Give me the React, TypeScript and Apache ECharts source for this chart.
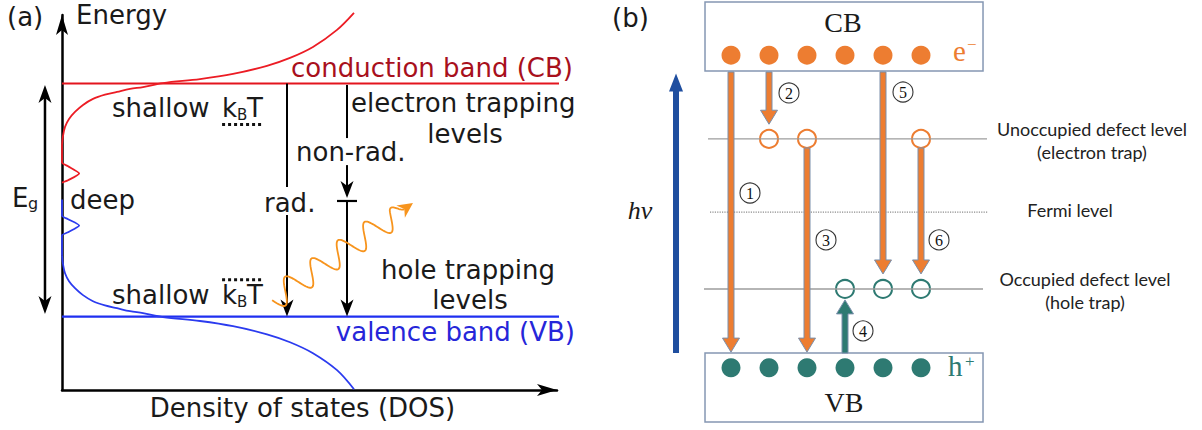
import React, { useEffect, useRef } from "react";
import * as echarts from "echarts";

// ---------------- Panel (a): density of states sketch ----------------
// x = density of states (a.u.), y = energy (VB edge = 0, CB edge = 1)
const cbDosCurve: number[][] = [
  [0, 0.736], [0.02, 0.775], [0.06, 0.814], [0.139, 0.848], [0.257, 0.878], [0.416, 0.908],
  [0.614, 0.934], [0.851, 0.952], [1.089, 0.964], [1.347, 0.977], [1.604, 0.985], [2.0, 1.002],
  [2.733, 1.019], [3.386, 1.041], [4.059, 1.076], [4.515, 1.11], [4.97, 1.157], [5.446, 1.23],
  [5.782, 1.303],
];
const cbDeepBump: number[][] = [
  [0, 0.736], [0, 0.661], [0.12, 0.645], [0.34, 0.614], [0.12, 0.585], [0, 0.575],
];
const vbDeepBump: number[][] = [
  [0, 0.502], [0, 0.433], [0.12, 0.418], [0.34, 0.391], [0.12, 0.362], [0, 0.348], [0, 0.264],
];
const vbDosCurve: number[][] = [
  [0, 0.264], [0.02, 0.225], [0.06, 0.186], [0.139, 0.152], [0.257, 0.122], [0.416, 0.092],
  [0.614, 0.066], [0.851, 0.048], [1.089, 0.036], [1.347, 0.023], [1.604, 0.015], [2.0, -0.002],
  [2.733, -0.019], [3.386, -0.041], [4.059, -0.076], [4.515, -0.11], [4.97, -0.157], [5.446, -0.23],
  [5.782, -0.312],
];
const cbEdge: number[][] = [[0, 1], [9.86, 1]];
const vbEdge: number[][] = [[0, 0], [9.86, 0]];

// transitions of panel (a), in data units (dos, energy)
const radDos = 4.455;
const radLabelGap = [0.556, 0.436];
const nonRadDos = 5.644;
const nonRadSegments: number[][] = [[0.994, 0.766], [0.65, 0.509], [0.496, 0]];
const nonRadArrowed = [false, true, true];
const nonRadTrapEnergy = 0.496;
const nonRadTrapHalfWidth = 0.198;
const gapArrowDos = -0.337;
const gapArrowEnergies = [0.011, 0.994];
const photonStart = [4.16, 0.07];
const photonTip = [6.95, 0.487];
const dottedKT: number[][] = [[3.17, 0.824, 4.0], [3.17, 0.158, 4.0]]; // [dosFrom, energy, dosTo]

// ---------------- Panel (b): defect levels ----------------
const stateSlots = [1, 2, 3, 4, 5, 6];
const electronTrapSlots = [2, 3, 6];
const holeTrapSlots = [4, 5, 6];
const cbEnergy = 1;
const vbEnergy = 0;
const electronTrapEnergy = 0.732;
const fermiEnergy = 0.498;
const holeTrapEnergy = 0.252;
const electronTrapSpan = [0.395, 7.737];
const fermiSpan = [0.447, 7.763];
const holeTrapSpan = [0.289, 7.632];
const cbBox = [0.316, 0.949, 7.632, 1.17];
const vbBox = [0.316, -0.174, 7.632, 0.047];
const transitionLabels = ["1", "2", "3", "4", "5", "6"];
const transitionSlots = [1, 2, 3, 4, 5, 6];
const transitionFrom = [0.946, 0.946, 0.703, 0.047, 0.946, 0.703];
const transitionTo = [0.05, 0.779, 0.05, 0.217, 0.3, 0.3];
const transitionLabelAt: number[][] = [
  [1.5, 0.559], [2.526, 0.879], [3.5, 0.409], [4.474, 0.118], [5.526, 0.882], [6.474, 0.409],
];
const hvSlot = -0.447;
const hvEnergies = [0.047, 0.941];

const SANS = "DejaVu Sans";
const SERIF = "Liberation Serif";
const ORANGE = "#ed7d31";
const TEAL = "#2e7a72";
const A_SIZE = 26;

type P = number[];

function unit(a: P, b: P) {
  const dx = b[0] - a[0], dy = b[1] - a[1];
  const L = Math.hypot(dx, dy) || 1;
  return [dx / L, dy / L];
}

function head(from: P, tip: P, len: number, halfW: number, notch: number, fill: string) {
  const [ux, uy] = unit(from, tip);
  const nx = -uy, ny = ux;
  const bx = tip[0] - ux * len, by = tip[1] - uy * len;
  return {
    type: "polygon", z: 50, silent: true,
    shape: {
      points: [
        [tip[0], tip[1]],
        [bx + nx * halfW, by + ny * halfW],
        [tip[0] - ux * len * notch, tip[1] - uy * len * notch],
        [bx - nx * halfW, by - ny * halfW],
      ],
    },
    style: { fill },
  };
}

function seg(a: P, b: P, color: string, w: number, dash?: number[]) {
  return {
    type: "line", z: 50, silent: true,
    shape: { x1: a[0], y1: a[1], x2: b[0], y2: b[1] },
    style: { stroke: color, lineWidth: w, lineDash: dash },
  };
}

function blackArrow(from: P, tip: P, w = 2) {
  const [ux, uy] = unit(from, tip);
  const len = 17;
  const end = [tip[0] - ux * len * 0.7, tip[1] - uy * len * 0.7];
  return [seg(from, end, "#000", w), head(from, tip, len, 6.5, 0.72, "#000")];
}

function blockArrow(from: P, tip: P, shaftHalf: number, headHalf: number, headLen: number, fill: string, stroke?: string) {
  const [ux, uy] = unit(from, tip);
  const nx = -uy, ny = ux;
  const nk = [tip[0] - ux * headLen, tip[1] - uy * headLen];
  const pts = [
    [from[0] + nx * shaftHalf, from[1] + ny * shaftHalf],
    [nk[0] + nx * shaftHalf, nk[1] + ny * shaftHalf],
    [nk[0] + nx * headHalf, nk[1] + ny * headHalf],
    [tip[0], tip[1]],
    [nk[0] - nx * headHalf, nk[1] - ny * headHalf],
    [nk[0] - nx * shaftHalf, nk[1] - ny * shaftHalf],
    [from[0] - nx * shaftHalf, from[1] - ny * shaftHalf],
  ];
  return {
    type: "polygon", z: 50, silent: true,
    shape: { points: pts },
    style: { fill, stroke: stroke || null, lineWidth: stroke ? 1 : 0 },
  };
}

function txt(text: string, x: number, y: number, o: any = {}) {
  return {
    type: "text", z: 60, silent: true, x, y,
    style: {
      text,
      fontSize: o.size || A_SIZE,
      fontFamily: o.family || SANS,
      fontStyle: o.italic ? "italic" : "normal",
      fill: o.color || "#1a1a1a",
      align: o.align || "left",
      verticalAlign: "middle",
    },
  };
}

export default function App() {
  const ref = useRef<HTMLDivElement>(null);

  useEffect(() => {
    if (!ref.current) return;
    const chart = echarts.init(ref.current, null, { renderer: "svg" });

    const bLine = (span: number[], e: number, dotted = false) => ({
      type: "line", xAxisIndex: 1, yAxisIndex: 1, silent: true, symbol: "none",
      data: [[span[0], e], [span[1], e]],
      lineStyle: { color: dotted ? "#8c8c8c" : "#9d9d9d", width: dotted ? 1.2 : 1.4, type: dotted ? "dotted" : "solid" },
    });
    const aLine = (data: number[][], color: string, w: number, smooth: number | boolean) => ({
      type: "line", xAxisIndex: 0, yAxisIndex: 0, silent: true, symbol: "none", clip: false,
      smooth, data, lineStyle: { color, width: w },
    });

    chart.setOption({
      animation: false,
      backgroundColor: "#ffffff",
      grid: [
        { left: 62, top: 15, width: 495, height: 375 },
        { left: 693, top: 2, width: 304, height: 422 },
      ],
      xAxis: [
        {
          type: "value", gridIndex: 0, min: 0, max: 9.802,
          name: "Density of states (DOS)", nameLocation: "middle", nameGap: 5,
          nameTextStyle: { fontSize: A_SIZE, fontFamily: SANS, color: "#1a1a1a", verticalAlign: "top", padding: [0, 14, 0, 0] },
          axisLine: { show: true, onZero: false, symbol: ["none", "arrow"], symbolSize: [9, 20], lineStyle: { color: "#000", width: 2.5 } },
          axisTick: { show: false }, axisLabel: { show: false }, splitLine: { show: false },
        },
        { type: "value", gridIndex: 1, min: 0, max: 8, show: false },
      ],
      yAxis: [
        {
          type: "value", gridIndex: 0, min: -0.315, max: 1.294,
          name: "Energy", nameLocation: "end", nameGap: 0,
          nameTextStyle: { fontSize: A_SIZE, fontFamily: SANS, color: "#1a1a1a", align: "left", verticalAlign: "middle", padding: [0, 0, 0, 14] },
          axisLine: { show: true, onZero: false, symbol: ["none", "arrow"], symbolSize: [9, 20], lineStyle: { color: "#000", width: 2.5 } },
          axisTick: { show: false }, axisLabel: { show: false }, splitLine: { show: false },
        },
        { type: "value", gridIndex: 1, min: -0.18, max: 1.17, show: false },
      ],
      series: [
        aLine(cbEdge, "#e3151e", 2.2, false),
        aLine(vbEdge, "#1f2ff0", 2.2, false),
        aLine(cbDosCurve, "#ec1c24", 1.8, 0.35),
        aLine(cbDeepBump, "#ec1c24", 1.8, 0.2),
        aLine(vbDeepBump, "#2b3bef", 1.8, 0.2),
        aLine(vbDosCurve, "#2b3bef", 1.8, 0.35),
        bLine(electronTrapSpan, electronTrapEnergy),
        bLine(fermiSpan, fermiEnergy, true),
        bLine(holeTrapSpan, holeTrapEnergy),
        {
          type: "scatter", xAxisIndex: 1, yAxisIndex: 1, silent: true, symbolSize: 19,
          data: stateSlots.map((s) => [s, cbEnergy]), itemStyle: { color: ORANGE, opacity: 1 },
        },
        {
          type: "scatter", xAxisIndex: 1, yAxisIndex: 1, silent: true, symbolSize: 19,
          data: stateSlots.map((s) => [s, vbEnergy]), itemStyle: { color: TEAL, opacity: 1 },
        },
        {
          type: "scatter", xAxisIndex: 1, yAxisIndex: 1, silent: true, symbolSize: 18,
          data: electronTrapSlots.map((s) => [s, electronTrapEnergy]),
          itemStyle: { color: "#ffffff", borderColor: ORANGE, borderWidth: 2, opacity: 1 },
        },
        {
          type: "scatter", xAxisIndex: 1, yAxisIndex: 1, silent: true, symbolSize: 18,
          data: holeTrapSlots.map((s) => [s, holeTrapEnergy]),
          itemStyle: { color: "#ffffff", borderColor: TEAL, borderWidth: 2, opacity: 1 },
        },
      ],
    });

    const pA = (d: number, e: number) => chart.convertToPixel({ gridIndex: 0 } as any, [d, e]) as number[];
    const pB = (s: number, e: number) => chart.convertToPixel({ gridIndex: 1 } as any, [s, e]) as number[];

    const els: any[] = [];

    // ---- panel (a) annotations ----
    {
      const lo = pA(gapArrowDos, gapArrowEnergies[0]);
      const hi = pA(gapArrowDos, gapArrowEnergies[1]);
      const len = 18;
      els.push(seg([lo[0], lo[1] - len * 0.7], [hi[0], hi[1] + len * 0.7], "#000", 2.5));
      els.push(head(hi, lo, len, 6.5, 0.72, "#000"));
      els.push(head(lo, hi, len, 6.5, 0.72, "#000"));
    }
    els.push(seg(pA(radDos, 1), pA(radDos, radLabelGap[0]), "#000", 2));
    els.push(...blackArrow(pA(radDos, radLabelGap[1]), pA(radDos, 0)));
    nonRadSegments.forEach((s, i) => {
      const a = pA(nonRadDos, s[0]);
      const b = pA(nonRadDos, s[1]);
      if (nonRadArrowed[i]) els.push(...blackArrow(a, b));
      else els.push(seg(a, b, "#000", 2));
    });
    els.push(seg(pA(nonRadDos - nonRadTrapHalfWidth, nonRadTrapEnergy), pA(nonRadDos + nonRadTrapHalfWidth, nonRadTrapEnergy), "#000", 2.2));
    dottedKT.forEach((d) => els.push(seg(pA(d[0], d[1]), pA(d[2], d[1]), "#111", 3, [3, 3])));
    // photon (wavy arrow glyph)
    {
      const p0 = pA(photonStart[0], photonStart[1]);
      const tip = pA(photonTip[0], photonTip[1]);
      const [ux, uy] = unit(p0, tip);
      const nx = -uy, ny = ux;
      const hl = 15;
      const wEnd = [tip[0] - ux * hl * 0.7, tip[1] - uy * hl * 0.7];
      const pts: number[][] = [];
      const cycles = 5, amp = 12, steps = 260;
      for (let i = 0; i <= steps; i++) {
        const t = i / steps;
        const bx = p0[0] + (wEnd[0] - p0[0]) * t;
        const by = p0[1] + (wEnd[1] - p0[1]) * t;
        const taper = t > 0.92 ? (1 - t) / 0.08 : 1;
        const o = amp * Math.sin(2 * Math.PI * cycles * t) * taper;
        pts.push([bx + nx * o, by + ny * o]);
      }
      els.push({ type: "polyline", z: 55, silent: true, shape: { points: pts }, style: { stroke: "#f7941d", lineWidth: 1.8, fill: null } });
      els.push({ ...head(p0, tip, hl, 7.5, 0.7, "#f7941d"), z: 56 });
    }

    // panel (a) texts
    els.push(txt("(a)", 7, 17));
    els.push(txt("conduction band (CB)", 573, 68, { align: "right", color: "#a8101c" }));
    els.push(txt("shallow", 112, 108));
    els.push(txt("k", 222, 108));
    els.push(txt("B", 237, 115, { size: 15 }));
    els.push(txt("T", 247, 108));
    els.push(txt("electron trapping", 351, 103));
    els.push(txt("levels", 465, 134, { align: "center" }));
    els.push(txt("non-rad.", 296, 152));
    els.push(txt("rad.", 264, 203));
    els.push(txt("deep", 70, 200));
    els.push(txt("E", 12, 198));
    els.push(txt("g", 28, 203, { size: 16 }));
    els.push(txt("hole trapping", 381, 270));
    els.push(txt("levels", 470, 300, { align: "center" }));
    els.push(txt("shallow", 112, 295));
    els.push(txt("k", 222, 295));
    els.push(txt("B", 237, 302, { size: 15 }));
    els.push(txt("T", 247, 295));
    els.push(txt("valence band (VB)", 575, 332, { align: "right", color: "#2626d9" }));

    // ---- panel (b) annotations ----
    const box = (b: number[]) => {
      const a = pB(b[0], b[3]);
      const c = pB(b[2], b[1]);
      return {
        type: "rect", z: 40, silent: true,
        shape: { x: a[0], y: a[1], width: c[0] - a[0], height: c[1] - a[1] },
        style: { fill: "rgba(0,0,0,0)", stroke: "#8597b3", lineWidth: 1.5 },
      };
    };
    els.push(box(cbBox));
    els.push(box(vbBox));

    transitionSlots.forEach((s, i) => {
      const from = pB(s, transitionFrom[i]);
      const tip = pB(s, transitionTo[i]);
      const color = transitionLabels[i] === "4" ? TEAL : ORANGE;
      els.push(blockArrow(from, tip, 3, 8.5, 14, color, "#7a8fab"));
      const lp = pB(transitionLabelAt[i][0], transitionLabelAt[i][1]);
      els.push({ type: "circle", z: 58, silent: true, shape: { cx: lp[0], cy: lp[1], r: 10 }, style: { fill: "#fff", stroke: "#333", lineWidth: 1.1 } });
      els.push(txt(transitionLabels[i], lp[0], lp[1] + 0.5, { size: 16, family: SERIF, align: "center", color: "#111" }));
    });

    els.push(blockArrow(pB(hvSlot, hvEnergies[0]), pB(hvSlot, hvEnergies[1]), 3, 7, 18, "#1f4e9f"));

    els.push(txt("(b)", 612, 18));
    els.push(txt("CB", 843, 22, { family: SERIF, size: 28, align: "center" }));
    els.push(txt("VB", 844, 402, { family: SERIF, size: 28, align: "center" }));
    els.push(txt("e", 953, 51, { family: SERIF, size: 29, color: ORANGE }));
    els.push(txt("\u2212", 967, 44, { family: SERIF, size: 17, color: ORANGE }));
    els.push(txt("h", 948, 366, { family: SERIF, size: 29, color: TEAL }));
    els.push(txt("+", 965, 361, { family: SERIF, size: 17, color: TEAL }));
    els.push(txt("hv", 640, 210, { family: SERIF, size: 26, italic: true, align: "center" }));

    const LAB = { family: "Lato", size: 18, align: "center", color: "#222" };
    els.push(txt("Unoccupied defect level", 1092, 129, LAB));
    els.push(txt("(electron trap)", 1092, 152, LAB));
    els.push(txt("Fermi level", 1070, 210, LAB));
    els.push(txt("Occupied defect level", 1085, 279, LAB));
    els.push(txt("(hole trap)", 1085, 302, LAB));

    chart.setOption({ graphic: { elements: els } });

    return () => chart.dispose();
  }, []);

  return (
    <div
      ref={ref}
      style={{ position: "fixed", left: 0, top: 0, width: 1202, height: 430, background: "#fff" }}
    />
  );
}
